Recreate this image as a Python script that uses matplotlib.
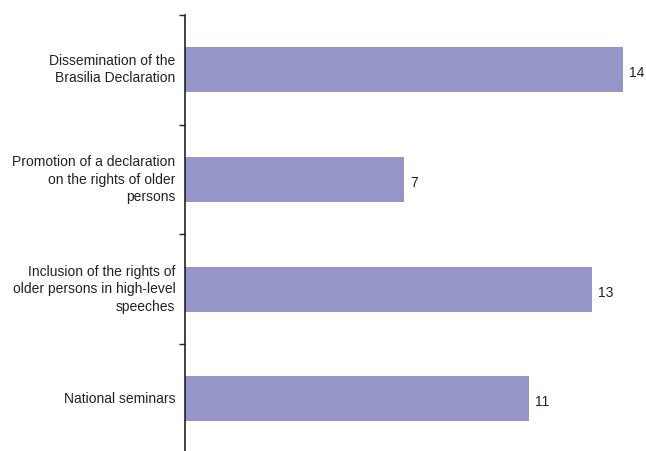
import matplotlib.pyplot as plt

categories = ["Dissemination of the\nBrasilia Declaration",
              "Promotion of a declaration\non the rights of older\npersons",
              "Inclusion of the rights of\nolder persons in high-level\nspeeches",
              "National seminars"]
values = [14, 7, 13, 11]

plt.rcParams['font.family'] = ['Liberation Sans', 'DejaVu Sans']

fig = plt.figure(figsize=(6.46, 4.51), dpi=100)
# axes: left edge at x=185px, top at y=15px, runs to bottom of image
ax = fig.add_axes([185/646, 0, 1 - 185/646, 436/451])

pos = range(len(values))
ax.barh(pos, values, height=0.41, color='#9595c8', zorder=2)

for p, v in zip(pos, values):
    ax.text(v + 0.2, p + 0.03, str(v), va='center', ha='left', fontsize=10, color='#222222')

ax.set_xlim(0, 461/31.29)
ax.set_ylim(-0.5 + 436/109.7, -0.5)

# category labels placed by hand to keep them right aligned with centred lines
ax.set_yticks([-0.5, 0.5, 1.5, 2.5])
ax.set_yticklabels([])
ax.tick_params(axis='y', length=4, width=1, color='#222222')
for p, c in zip(pos, categories):
    ax.annotate(c, xy=(0, p), xycoords=('axes fraction', 'data'),
                xytext=(-7, 0), textcoords='offset points',
                ha='right', va='center', multialignment='right',
                fontsize=10, color='#222222', linespacing=1.3)

ax.set_xticks([])
for s in ['top', 'right', 'bottom']:
    ax.spines[s].set_visible(False)
ax.spines['left'].set_linewidth(1.2)
ax.spines['left'].set_color('#222222')

fig.savefig('out.png', dpi=100)
